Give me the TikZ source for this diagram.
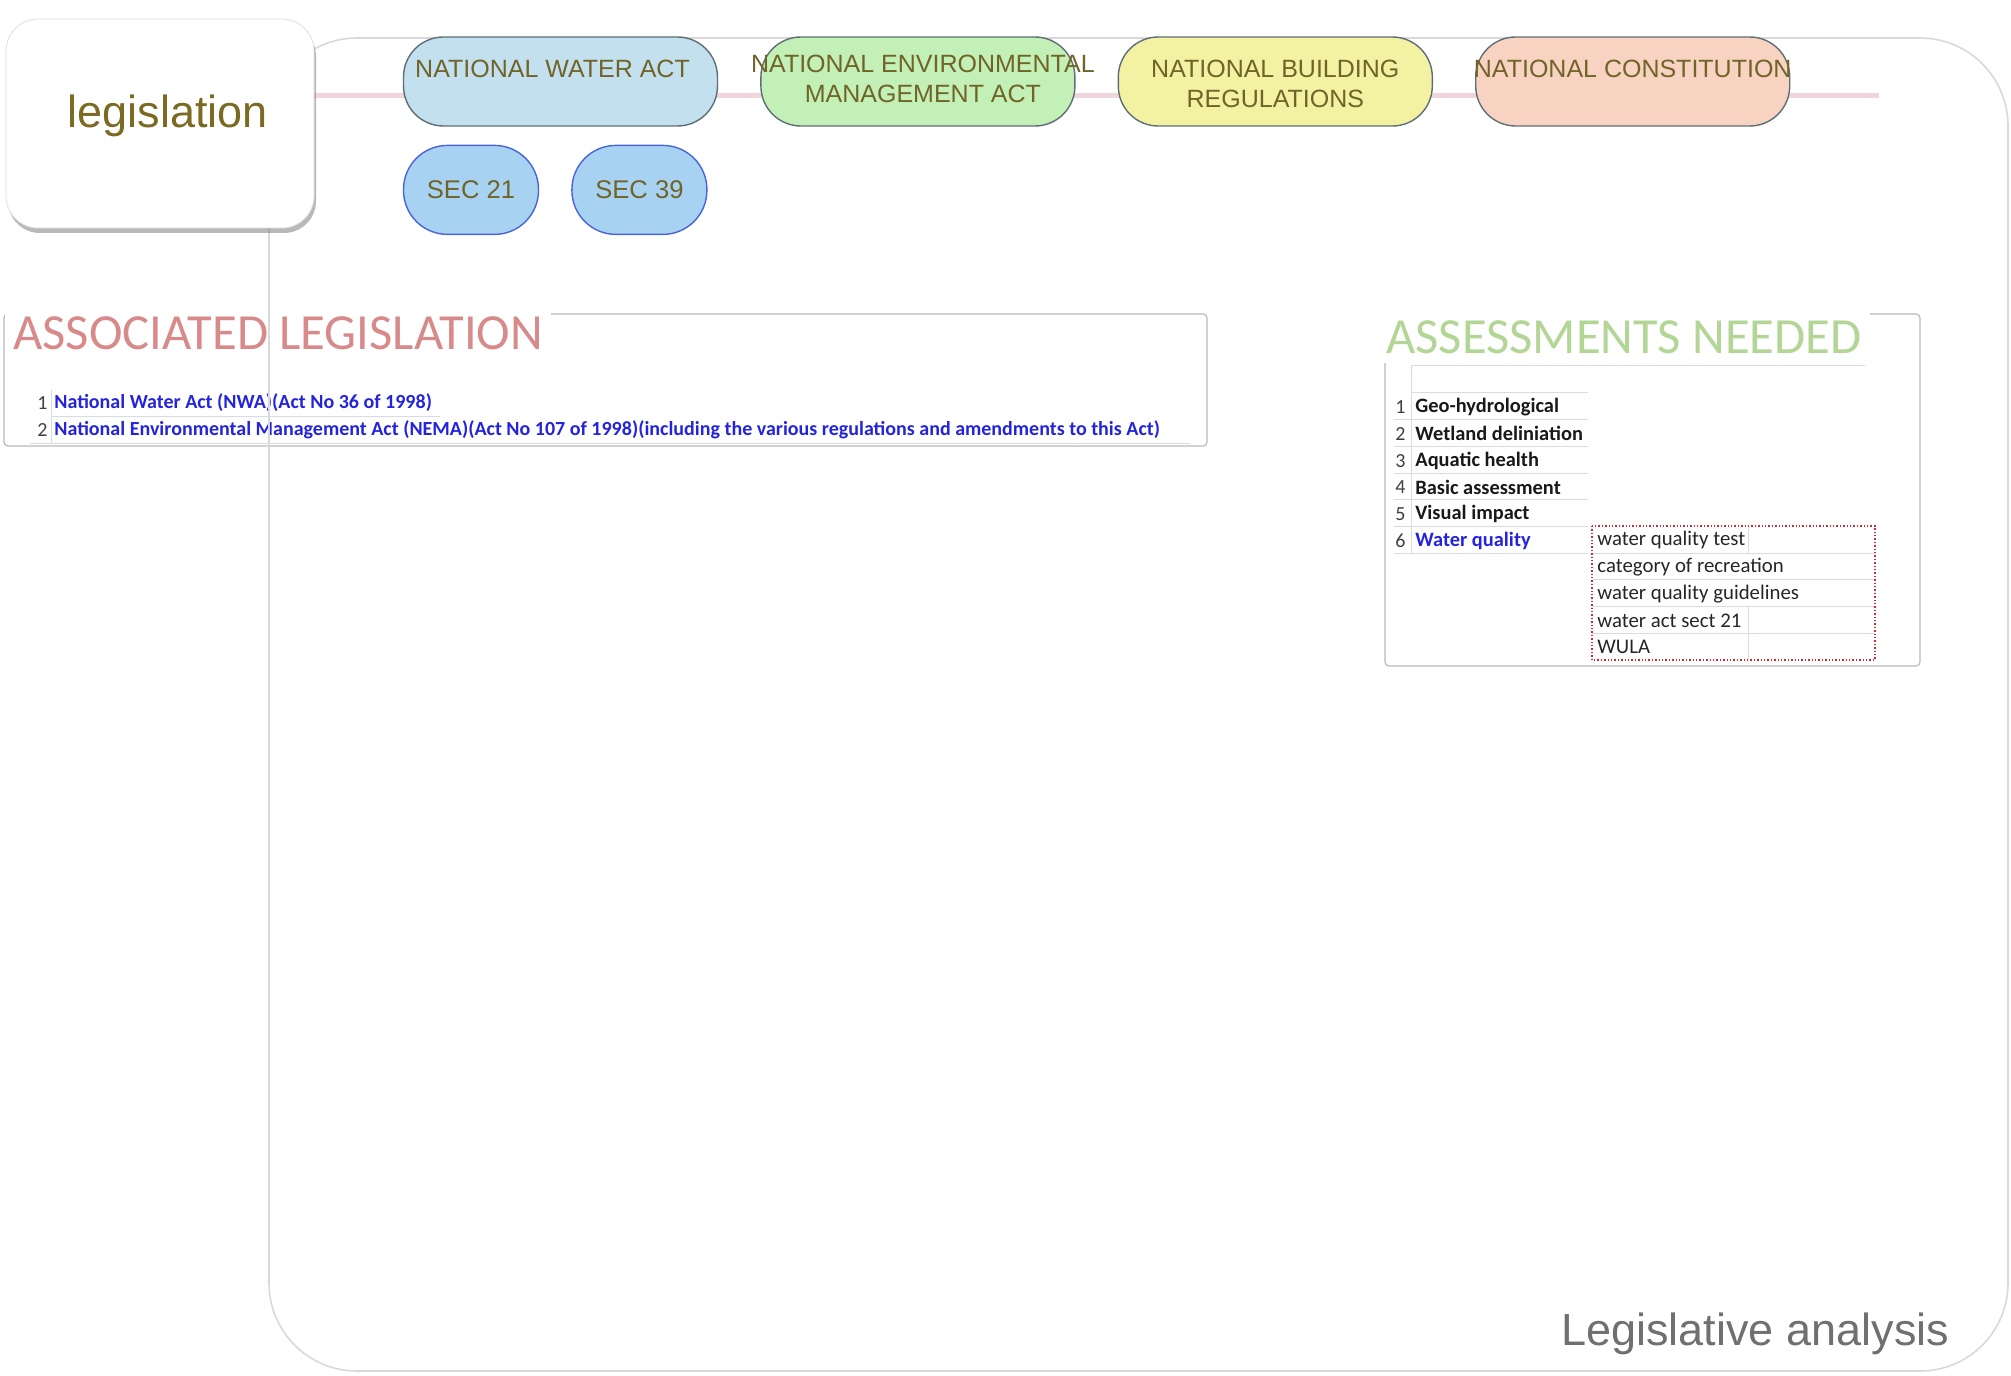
\documentclass[tikz,border=0pt]{standalone}
\usepackage{fontspec}
\setmainfont{Liberation Sans}
\newfontfamily\carlito{Carlito}
\usetikzlibrary{positioning,shadows}
\definecolor{olivetext}{RGB}{112,100,40}
\definecolor{legolive}{RGB}{122,106,34}
\definecolor{pillborder}{RGB}{95,110,118}
\definecolor{nwablue}{RGB}{195,224,239}
\definecolor{nemagreen}{RGB}{195,240,182}
\definecolor{nbryellow}{RGB}{242,242,162}
\definecolor{ncpeach}{RGB}{248,211,194}
\definecolor{secblue}{RGB}{168,210,242}
\definecolor{secborder}{RGB}{74,99,216}
\definecolor{linkpink}{RGB}{240,214,216}
\definecolor{framegray}{RGB}{217,217,217}
\definecolor{assoctitle}{RGB}{216,138,138}
\definecolor{assesstitle}{RGB}{179,213,150}
\definecolor{actblue}{RGB}{36,36,220}
\definecolor{rulegray}{RGB}{213,220,230}
\definecolor{dotred}{RGB}{210,40,50}
\tikzset{
        outerframe/.style = {draw=framegray, line width=0.8pt, rounded corners=44pt},
        legbox/.style = {draw=gray!25, fill=white, rounded corners=16pt,
            minimum width=154pt, minimum height=104.5pt,
            drop shadow={shadow xshift=1pt, shadow yshift=-2.5pt, fill=black!50, opacity=.55}},
        pill/.style = {draw=pillborder, line width=0.7pt, rounded corners=20pt,
            minimum width=157pt, minimum height=44.5pt, inner sep=0pt},
        pilltext/.style = {text=olivetext, align=center, inner sep=0pt,
            font=\fontsize{12.5}{15}\selectfont},
        secbox/.style = {draw=secborder, fill=secblue, line width=0.7pt, rounded corners=22pt,
            minimum width=67.5pt, minimum height=44.5pt, inner sep=0pt,
            text=olivetext, font=\fontsize{12.8}{14}\selectfont},
        link/.style = {draw=linkpink, line width=2.5pt},
        panel/.style = {draw=gray!55, line width=0.6pt, rounded corners=2pt},
        paneltitle/.style = {fill=white, anchor=west, inner xsep=4pt, inner ysep=3pt,
            font=\carlito\fontsize{25.3}{30}\selectfont},
        rownum/.style = {anchor=east, inner sep=0pt, text=black!75,
            font=\carlito\fontsize{10}{12}\selectfont},
        rowtext/.style = {anchor=west, inner sep=0pt, text=black!90,
            font=\carlito\bfseries\fontsize{10.2}{12}\selectfont},
        acttext/.style = {rowtext, text=actblue,
            font=\carlito\bfseries\fontsize{10}{12}\selectfont},
        subtext/.style = {anchor=west, inner sep=0pt, text=black!85,
            font=\carlito\fontsize{10.4}{12}\selectfont},
        tablerule/.style = {draw=rulegray, line width=0.5pt},
    }

\begin{document}
\begin{tikzpicture}[x=0.5pt,y=-0.5pt]
    \fill[white] (0,0) rectangle (2011,1375);
    \useasboundingbox (0,0) rectangle (2011,1375);

    % line behind the acts
    \coordinate (linestart) at (314,96);
    \coordinate (lineend) at (1879,96);
    \draw[link] (linestart) -- (lineend);

    % associated legislation
    \draw[panel] (4,314) rectangle (1207,446);
    \node[paneltitle, text=assoctitle] (assoc) at (5,333) {ASSOCIATED LEGISLATION};
    \draw[tablerule] (51,390) -- (51,443);
    \draw[tablerule] (51,416.5) -- (440,416.5);
    \draw[tablerule] (30,443) -- (1190,443);
    \node[rownum] (an1) at (48,403) {1};
    \node[acttext] (at1) at (54,403) {National Water Act (NWA)(Act No 36 of 1998)};
    \node[rownum] (an2) at (48,430) {2};
    \node[acttext] (at2) at (54,430) {National Environmental Management Act (NEMA)(Act No 107 of 1998)(including the various regulations and amendments to this Act)};

    % assessments needed
    \draw[panel] (1385,314) rectangle (1920,666);
    \node[paneltitle, text=assesstitle, minimum height=26pt] (assess) at (1378,337) {ASSESSMENTS NEEDED};
    \draw[tablerule] (1411,365) -- (1865,365);
    \draw[tablerule] (1411,365) -- (1411,553.5);
    \draw[tablerule] (1411,392) -- (1588,392);
    \draw[tablerule] (1394,419.5) -- (1588,419.5);
    \draw[tablerule] (1394,446.3) -- (1588,446.3);
    \draw[tablerule] (1394,473.1) -- (1588,473.1);
    \draw[tablerule] (1394,499.9) -- (1588,499.9);
    \draw[tablerule] (1394,526.7) -- (1588,526.7);
    \draw[tablerule] (1394,553.5) -- (1588,553.5);
    \node[rownum] (bn1) at (1406,407) {1};
    \node[rowtext] (bt1) at (1415,407) {Geo-hydrological};
    \node[rownum] (bn2) at (1406,433.8) {2};
    \node[rowtext] (bt2) at (1415,433.8) {Wetland deliniation};
    \node[rownum] (bn3) at (1406,460.6) {3};
    \node[rowtext] (bt3) at (1415,460.6) {Aquatic health};
    \node[rownum] (bn4) at (1406,487.4) {4};
    \node[rowtext] (bt4) at (1415,487.4) {Basic assessment};
    \node[rownum] (bn5) at (1406,514.2) {5};
    \node[rowtext] (bt5) at (1415,514.2) {Visual impact};
    \node[rownum] (bn6) at (1406,541) {6};
    \node[rowtext, text=actblue] (bt6) at (1415,541) {Water quality};

    % water quality checks
    \draw[tablerule] (1592,553) -- (1875,553);
    \draw[tablerule] (1592,579.8) -- (1875,579.8);
    \draw[tablerule] (1592,606.6) -- (1875,606.6);
    \draw[tablerule] (1592,633.4) -- (1875,633.4);
    \draw[tablerule] (1748,526) -- (1748,553);
    \draw[tablerule] (1748,606.6) -- (1748,660);
    \draw[draw=dotred, densely dotted, line width=0.7pt] (1592,526) rectangle (1875,660);
    \node[subtext] (wq1) at (1597,540) {water quality test};
    \node[subtext] (wq2) at (1597,566.8) {category of recreation};
    \node[subtext] (wq3) at (1597,593.6) {water quality guidelines};
    \node[subtext] (wq4) at (1597,620.4) {water act sect 21};
    \node[subtext] (wq5) at (1597,647.2) {WULA};

    \node[anchor=west, inner sep=0pt, text=black!56, font=\fontsize{22.5}{27}\selectfont] (title) at (1561,1334) {Legislative analysis};

    \draw[outerframe] (269,38) rectangle (2008,1371);

    \node[legbox] (leg) at (160,123.5) {};
    \node[text=legolive, font=\fontsize{22.5}{27}\selectfont] (legtext) at (168,116) {legislation};

    % the acts
    \node[pill, fill=nwablue] (nwa) at (560.5,81.5) {};
    \node[pill, fill=nemagreen, right=21pt of nwa] (nema) {};
    \node[pill, fill=nbryellow, right=21pt of nema] (nbr) {};
    \node[pill, fill=ncpeach, right=21pt of nbr] (nc) {};

    \node[pilltext] (nwatext) at ([xshift=-4pt,yshift=6.25pt]nwa.center) {NATIONAL WATER ACT};
    \node[pilltext] (nematext) at ([xshift=2.5pt,yshift=1.25pt]nema.center) {NATIONAL ENVIRONMENTAL\\MANAGEMENT ACT};
    \node[pilltext] (nbrtext) at ([yshift=-1.25pt]nbr.center) {NATIONAL BUILDING\\REGULATIONS};
    \node[pilltext] (nctext) at ([yshift=6.25pt]nc.center) {NATIONAL CONSTITUTION};

    \node[secbox, below right=9pt and 0pt of nwa.south west] (sec21) {SEC 21};
    \node[secbox, right=16pt of sec21] (sec39) {SEC 39};
\end{tikzpicture}
\end{document}
